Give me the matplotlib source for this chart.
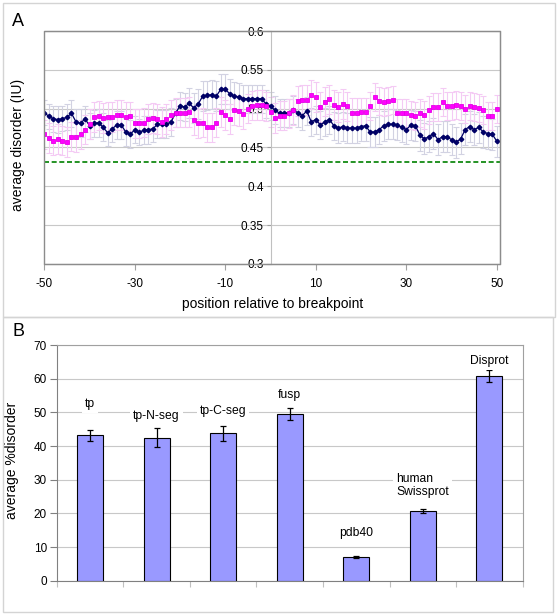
import numpy as np
import matplotlib.pyplot as plt
from matplotlib.patches import Rectangle

plt.rcParams['font.family'] = ['Liberation Sans', 'DejaVu Sans']
plt.rcParams['axes.unicode_minus'] = False

# panel A: average disorder around the breakpoint
position = np.arange(-50, 51)
navy_mean = [0.495, 0.490, 0.487, 0.486, 0.487, 0.489, 0.494, 0.483, 0.481, 0.487,
             0.478, 0.481, 0.482, 0.476, 0.469, 0.474, 0.479, 0.479, 0.470, 0.467,
             0.473, 0.470, 0.472, 0.473, 0.474, 0.480, 0.480, 0.480, 0.483, 0.494,
             0.504, 0.502, 0.507, 0.501, 0.506, 0.516, 0.517, 0.518, 0.516, 0.525,
             0.525, 0.519, 0.516, 0.515, 0.513, 0.513, 0.513, 0.513, 0.513, 0.506,
             0.503, 0.498, 0.494, 0.494, 0.495, 0.498, 0.495, 0.491, 0.497, 0.483,
             0.486, 0.479, 0.483, 0.486, 0.478, 0.475, 0.477, 0.475, 0.475, 0.475,
             0.477, 0.478, 0.470, 0.470, 0.473, 0.478, 0.480, 0.480, 0.479, 0.476,
             0.473, 0.479, 0.478, 0.466, 0.461, 0.464, 0.468, 0.460, 0.464, 0.464,
             0.460, 0.457, 0.461, 0.473, 0.477, 0.473, 0.476, 0.470, 0.468, 0.467,
             0.458]
navy_err = [0.016, 0.016, 0.017, 0.017, 0.016, 0.017, 0.017, 0.017, 0.018, 0.017,
            0.017, 0.017, 0.018, 0.018, 0.017, 0.017, 0.018, 0.018, 0.018, 0.018,
            0.017, 0.017, 0.018, 0.018, 0.017, 0.018, 0.018, 0.018, 0.018, 0.018,
            0.018, 0.018, 0.019, 0.019, 0.019, 0.019, 0.019, 0.019, 0.019, 0.019,
            0.019, 0.019, 0.018, 0.018, 0.018, 0.018, 0.018, 0.018, 0.018, 0.018,
            0.018, 0.018, 0.018, 0.018, 0.018, 0.018, 0.018, 0.018, 0.018, 0.018,
            0.018, 0.018, 0.018, 0.018, 0.018, 0.019, 0.019, 0.019, 0.019, 0.019,
            0.019, 0.019, 0.019, 0.019, 0.019, 0.019, 0.019, 0.019, 0.019, 0.019,
            0.019, 0.019, 0.019, 0.020, 0.020, 0.020, 0.020, 0.020, 0.020, 0.020,
            0.020, 0.020, 0.020, 0.020, 0.020, 0.020, 0.020, 0.020, 0.020, 0.020,
            0.020]
pink_mean = [0.467, 0.462, 0.459, 0.461, 0.459, 0.457, 0.464, 0.463, 0.467, 0.473,
             0.480, 0.489, 0.491, 0.488, 0.489, 0.489, 0.492, 0.492, 0.489, 0.490,
             0.481, 0.481, 0.482, 0.487, 0.488, 0.487, 0.483, 0.487, 0.492, 0.495,
             0.495, 0.495, 0.496, 0.485, 0.481, 0.482, 0.476, 0.476, 0.482, 0.496,
             0.492, 0.487, 0.498, 0.497, 0.493, 0.500, 0.504, 0.505, 0.505, 0.503,
             0.496, 0.488, 0.491, 0.491, 0.494, 0.498, 0.510, 0.511, 0.511, 0.518,
             0.515, 0.502, 0.509, 0.512, 0.505, 0.502, 0.506, 0.503, 0.495, 0.495,
             0.496, 0.496, 0.504, 0.515, 0.510, 0.509, 0.510, 0.511, 0.495, 0.495,
             0.494, 0.492, 0.490, 0.494, 0.492, 0.498, 0.502, 0.502, 0.508, 0.503,
             0.504, 0.505, 0.504, 0.500, 0.503, 0.502, 0.501, 0.498, 0.491, 0.491,
             0.499]
pink_err = [0.019, 0.019, 0.019, 0.019, 0.019, 0.019, 0.019, 0.019, 0.019, 0.019,
            0.019, 0.019, 0.019, 0.019, 0.019, 0.019, 0.019, 0.019, 0.019, 0.019,
            0.019, 0.019, 0.019, 0.019, 0.019, 0.019, 0.019, 0.019, 0.019, 0.019,
            0.019, 0.019, 0.019, 0.019, 0.019, 0.019, 0.019, 0.019, 0.019, 0.019,
            0.019, 0.019, 0.019, 0.019, 0.019, 0.019, 0.019, 0.019, 0.019, 0.019,
            0.019, 0.019, 0.019, 0.019, 0.019, 0.019, 0.019, 0.019, 0.019, 0.019,
            0.019, 0.019, 0.019, 0.019, 0.019, 0.019, 0.019, 0.019, 0.019, 0.019,
            0.018, 0.018, 0.018, 0.018, 0.018, 0.018, 0.018, 0.018, 0.018, 0.018,
            0.018, 0.018, 0.018, 0.018, 0.018, 0.018, 0.018, 0.018, 0.018, 0.018,
            0.018, 0.018, 0.018, 0.018, 0.018, 0.018, 0.018, 0.018, 0.018, 0.018,
            0.018]
baseline = 0.431
a_ticks = [0.3, 0.35, 0.4, 0.45, 0.5, 0.55, 0.6]
a_ticklabels = ['0.3', '0.35', '0.4', '0.45', '0.5', '0.55', '0.6']
a_xticks = [-50, -30, -10, 10, 30, 50]

# panel B: average %disorder per data set
groups = ['tp', 'tp-N-seg', 'tp-C-seg', 'fusp', 'pdb40', 'human\nSwissprot', 'Disprot']
pct = [43.2, 42.5, 43.8, 49.5, 7.1, 20.7, 60.8]
pct_err = [1.7, 2.8, 2.2, 1.9, 0.3, 0.7, 1.9]

W, H = 558, 616
fig = plt.figure(figsize=(W / 100, H / 100), dpi=100)
grey_frame = '#d4d4d4'
for x0, y0, x1, y1 in [(3, 3, 555, 317), (3, 317, 553, 612)]:
    fig.add_artist(Rectangle((x0 / W, 1 - y1 / H), (x1 - x0) / W, (y1 - y0) / H,
                             transform=fig.transFigure, fill=False, ec=grey_frame, lw=1))

# ---- panel A ----
ax = fig.add_axes([44.3 / W, 1 - 264 / H, (500 - 44.3) / W, (264 - 31) / H])
ax.set_xlim(-50, 50.7)
ax.set_ylim(0.3, 0.6)
ax.set_yticks(a_ticks)
ax.set_yticklabels(a_ticklabels)
ax.set_xticks(a_xticks)
ax.yaxis.grid(True, color='#c8c8c8', lw=0.8)
ax.set_axisbelow(True)
for s in ['top', 'right', 'bottom']:
    ax.spines[s].set_color('#a0a0a0')
ax.spines['left'].set_position(('data', 0))
ax.spines['left'].set_color('#c0c0c0')
ax.add_patch(Rectangle((0, 0), 1, 1, transform=ax.transAxes, fill=False,
                       ec='#8c8c8c', lw=1, clip_on=False, zorder=5))
ax.tick_params(axis='y', direction='out', length=3, color='#a0a0a0', labelsize=8.5, pad=2)
ax.tick_params(axis='x', direction='out', length=4, color='#a0a0a0', labelsize=8.5, pad=6)

ax.errorbar(position, navy_mean, yerr=navy_err, fmt='none', ecolor='#d2d2e2',
            elinewidth=0.8, capsize=2.5, capthick=0.8, zorder=2)
ax.errorbar(position, pink_mean, yerr=pink_err, fmt='none', ecolor='#f4caf4',
            elinewidth=0.8, capsize=2.5, capthick=0.8, zorder=2)
ax.axhline(baseline, color='#008000', ls=(0, (3, 1.6)), lw=1.2, zorder=3)
ax.plot(position, navy_mean, '-D', color='#000066', ms=2.3, lw=0.9, zorder=4)
ax.plot(position, pink_mean, 's', color='#ff00ff', ms=3.2, mec='#e600e6', mew=0.6, zorder=4)

ax.set_ylabel('average disorder (IU)', fontsize=10)
ax.yaxis.set_label_coords(-0.042, 0.51)
ax.set_xlabel('position relative to breakpoint', fontsize=10)
ax.xaxis.set_label_coords(0.502, -0.14)
fig.text(12 / W, 1 - 22 / H, 'A', fontsize=13, va='center')

# ---- panel B ----
bx = fig.add_axes([56.7 / W, 1 - 580.7 / H, 466 / W, 235.7 / H])
xb = np.arange(len(groups))
bx.bar(xb, pct, width=0.39, color='#9999ff', ec='black', lw=0.8, zorder=3)
bx.errorbar(xb, pct, yerr=pct_err, fmt='none', ecolor='black', elinewidth=0.9,
            capsize=2.4, capthick=0.9, zorder=4)
bx.set_xlim(-0.5, len(groups) - 0.5)
bx.set_ylim(0, 70)
bx.set_yticks(np.arange(0, 71, 10))
bx.set_xticks(np.arange(-0.5, len(groups), 1))
bx.set_xticklabels([])
bx.yaxis.grid(True, color='#c8c8c8', lw=0.8)
bx.set_axisbelow(True)
for s in ['top', 'right']:
    bx.spines[s].set_color('#a0a0a0')
for s in ['left', 'bottom']:
    bx.spines[s].set_color('#808080')
bx.tick_params(axis='y', direction='out', length=5, color='#808080', labelsize=8.5, pad=2)
bx.tick_params(axis='x', direction='out', length=4, color='#c0c0c0')

# where each label sits above its bar (Excel placed them by hand)
label_lift = [7.5, 3.6, 4.5, 3.8, 6.7, 6.9, 2.5]
for i, name in enumerate(groups):
    bx.text(xb[i], pct[i] + pct_err[i] + label_lift[i], name, ha='center', va='center',
            multialignment='left', fontsize=8.7, zorder=5,
            bbox=dict(boxstyle='square,pad=0.25', fc='white', ec='none'))

bx.set_ylabel('average %disorder', fontsize=10)
bx.yaxis.set_label_coords(-0.081, 0.512)
fig.text(12 / W, 1 - 331 / H, 'B', fontsize=13, va='center')

fig.savefig('out.png', dpi=100)
